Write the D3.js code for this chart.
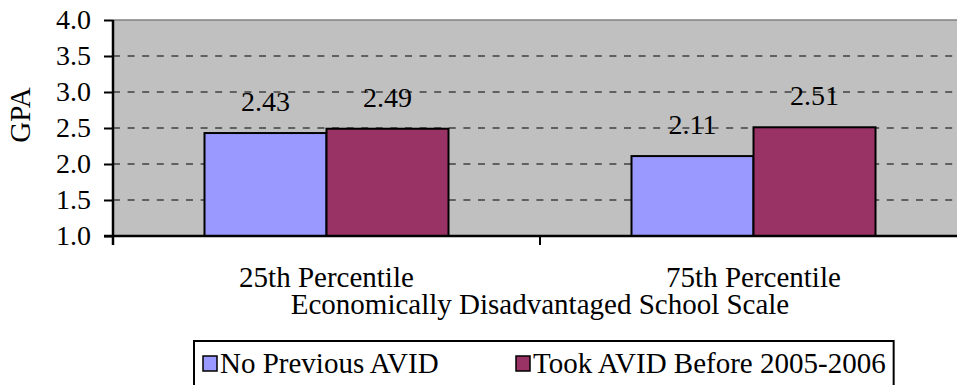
<!DOCTYPE html>
<html>
<head>
<meta charset="utf-8">
<script src="https://cdn.jsdelivr.net/npm/d3@7"></script>
<style>
  html, body { margin: 0; padding: 0; background: #fff; }
  svg { display: block; }
  svg text { font-family: "Times New Roman", "Liberation Serif", Times, "DejaVu Serif", serif; }
</style>
</head>
<body>
<svg id="chart" width="957" height="385"></svg>
<script>
// GPA by economically disadvantaged school scale
const categories = ["25th Percentile", "75th Percentile"];
const seriesNames = ["No Previous AVID", "Took AVID Before 2005-2006"];
const noPreviousAvid = [2.43, 2.11];
const tookAvidBefore = [2.49, 2.51];
const yTicks = [1.0, 1.5, 2.0, 2.5, 3.0, 3.5, 4.0];
const seriesColors = ["#9999FF", "#993366"];

const seriesValues = [noPreviousAvid, tookAvidBefore];
const rows = categories.map((c, i) => ({
  category: c,
  values: seriesNames.map((s, j) => ({ series: s, value: seriesValues[j][i], color: seriesColors[j] }))
}));

const serif = '"Times New Roman", "Liberation Serif", Times, serif';
const svg = d3.select("#chart");
const plot = { left: 113, right: 967, top: 20, bottom: 236 };
const tickFont = 28;
const labelFont = 29;

const x0 = d3.scaleBand().domain(categories).range([plot.left, plot.right]).padding(0);
const x1 = d3.scaleBand().domain(seriesNames).range([0, x0.bandwidth()]).paddingInner(0).paddingOuter(0.75);
const y = d3.scaleLinear().domain([1, 4]).range([plot.bottom, plot.top]);

// plot background
svg.append("rect")
  .attr("x", plot.left).attr("y", plot.top)
  .attr("width", plot.right - plot.left).attr("height", plot.bottom - plot.top)
  .attr("fill", "#C0C0C0");

// top border
svg.append("line")
  .attr("x1", plot.left).attr("x2", plot.right)
  .attr("y1", y(4)).attr("y2", y(4))
  .attr("stroke", "#808080").attr("stroke-width", 1.5);

// dashed gridlines
svg.append("g").selectAll("line")
  .data(yTicks.filter(t => t > 1 && t < 4))
  .join("line")
  .attr("x1", plot.left).attr("x2", plot.right)
  .attr("y1", d => y(d)).attr("y2", d => y(d))
  .attr("stroke", "#000").attr("stroke-width", 1)
  .attr("stroke-dasharray", "7,7.6");

// bars
const groups = svg.append("g").selectAll("g")
  .data(rows)
  .join("g")
  .attr("transform", d => `translate(${x0(d.category)},0)`);

groups.selectAll("rect")
  .data(d => d.values)
  .join("rect")
  .attr("x", d => x1(d.series))
  .attr("y", d => y(d.value))
  .attr("width", x1.bandwidth())
  .attr("height", d => y(1) - y(d.value))
  .attr("fill", d => d.color)
  .attr("stroke", "#000")
  .attr("stroke-width", 2);

// value labels
groups.selectAll("text")
  .data(d => d.values)
  .join("text")
  .attr("x", d => x1(d.series) + x1.bandwidth() / 2)
  .attr("y", d => y(d.value) - 22)
  .attr("text-anchor", "middle")
  .attr("font-size", tickFont)
  .attr("fill", "#000")
  .text(d => d.value.toFixed(2));

// y axis
const yAxis = svg.append("g")
  .attr("transform", `translate(${plot.left},0)`)
  .call(d3.axisLeft(y).tickValues(yTicks).tickFormat(d3.format(".1f")).tickSize(9).tickSizeOuter(0).tickPadding(13));
yAxis.attr("font-family", serif);
yAxis.select(".domain").remove();
yAxis.selectAll(".tick line").attr("stroke", "#000").attr("stroke-width", 2);
yAxis.selectAll(".tick text")
  .attr("font-family", serif).attr("font-size", tickFont).attr("fill", "#000");

// axis lines
svg.append("line")
  .attr("x1", plot.left).attr("x2", plot.left)
  .attr("y1", plot.top).attr("y2", plot.bottom + 9)
  .attr("stroke", "#000").attr("stroke-width", 2.5);
svg.append("line")
  .attr("x1", plot.left - 9).attr("x2", plot.right)
  .attr("y1", plot.bottom).attr("y2", plot.bottom)
  .attr("stroke", "#000").attr("stroke-width", 2.5);

// x ticks at category boundaries
const boundaries = categories.map(c => x0(c)).concat([x0(categories[categories.length - 1]) + x0.bandwidth()]);
svg.append("g").selectAll("line")
  .data(boundaries)
  .join("line")
  .attr("x1", d => d).attr("x2", d => d)
  .attr("y1", plot.bottom).attr("y2", plot.bottom + 9)
  .attr("stroke", "#000").attr("stroke-width", 2);

// category labels
svg.append("g").selectAll("text")
  .data(categories)
  .join("text")
  .attr("x", d => x0(d) + x0.bandwidth() / 2)
  .attr("y", 287)
  .attr("text-anchor", "middle")
  .attr("font-size", labelFont)
  .text(d => d);

// axis titles
svg.append("text")
  .attr("x", (plot.left + plot.right) / 2)
  .attr("y", 314)
  .attr("text-anchor", "middle")
  .attr("font-size", labelFont)
  .text("Economically Disadvantaged School Scale");

svg.append("text")
  .attr("transform", "translate(30,115) rotate(-90)")
  .attr("text-anchor", "middle")
  .attr("font-size", labelFont)
  .text("GPA");

// legend
const legend = svg.append("g");
const legendItems = legend.selectAll("g")
  .data(seriesNames)
  .join("g");
const itemX = [203, 516];
legendItems.append("rect")
  .attr("x", (d, i) => itemX[i])
  .attr("y", 356)
  .attr("width", 14).attr("height", 15)
  .attr("fill", (d, i) => seriesColors[i])
  .attr("stroke", "#000").attr("stroke-width", 1.5);
legendItems.append("text")
  .attr("x", (d, i) => itemX[i] + 17)
  .attr("y", 373)
  .attr("font-size", labelFont)
  .text(d => d);

const lastText = legendItems.filter((d, i) => i === seriesNames.length - 1).select("text").node();
const bb = lastText.getBBox();
const legendLeft = 194;
legend.insert("rect", ":first-child")
  .attr("x", legendLeft)
  .attr("y", 341)
  .attr("width", bb.x + bb.width + 8 - legendLeft)
  .attr("height", 60)
  .attr("fill", "#fff")
  .attr("stroke", "#000").attr("stroke-width", 2);
</script>
</body>
</html>
